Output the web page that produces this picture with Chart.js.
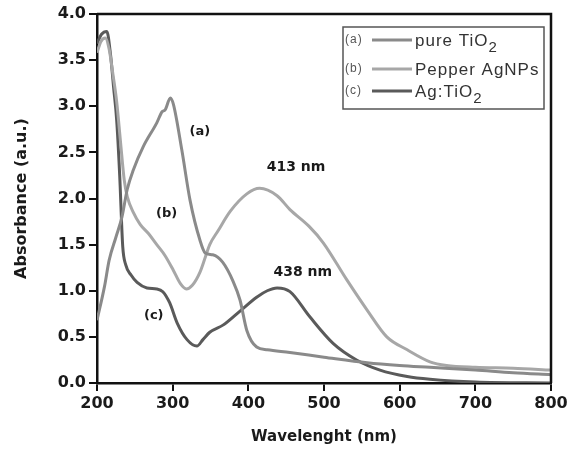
<!DOCTYPE html>
<html>
<head>
<meta charset="utf-8">
<script src="https://cdn.jsdelivr.net/npm/chart.js@4.4.0/dist/chart.umd.min.js"></script>
<style>
  body { margin: 0; background: #fff; }
</style>
</head>
<body>
<canvas id="chart" width="579" height="457"></canvas>
<script>
// (a) pure TiO2
const tio2Nm  = [200, 210, 216, 225, 233, 240, 248, 261, 279, 286, 290, 297, 301, 312, 323, 336, 343, 353, 366, 380, 389, 398, 411, 425, 455, 500, 557, 600, 640, 700, 750, 800]
const tio2Abs = [0.68, 1.05, 1.33, 1.58, 1.80, 2.10, 2.31, 2.56, 2.82, 2.94, 2.96, 3.09, 3.02, 2.53, 1.98, 1.55, 1.41, 1.39, 1.31, 1.10, 0.90, 0.57, 0.39, 0.36, 0.33, 0.28, 0.22, 0.19, 0.17, 0.14, 0.11, 0.09]

// (b) Pepper AgNPs
const pepperNm  = [200, 205, 211, 216, 221, 226, 231, 236, 240, 248, 257, 268, 279, 290, 301, 310, 318, 326, 336, 343, 349, 360, 376, 398, 415, 438, 455, 480, 499, 530, 557, 583, 610, 640, 662, 700, 750, 800]
const pepperAbs = [3.58, 3.70, 3.74, 3.62, 3.35, 3.05, 2.62, 2.20, 2.02, 1.85, 1.72, 1.62, 1.50, 1.38, 1.22, 1.08, 1.02, 1.06, 1.20, 1.36, 1.50, 1.65, 1.86, 2.05, 2.11, 2.03, 1.88, 1.70, 1.52, 1.12, 0.79, 0.50, 0.36, 0.23, 0.19, 0.17, 0.16, 0.14]

// (c) Ag:TiO2
const agTio2Nm  = [200, 206, 213, 218, 222, 226, 230, 234, 238, 245, 253, 266, 279, 287, 296, 306, 319, 332, 340, 349, 367, 389, 411, 425, 438, 455, 481, 512, 543, 574, 610, 640, 700, 800]
const agTio2Abs = [3.68, 3.78, 3.81, 3.55, 3.20, 2.85, 2.25, 1.48, 1.28, 1.17, 1.09, 1.03, 1.02, 0.99, 0.87, 0.65, 0.47, 0.40, 0.47, 0.55, 0.63, 0.78, 0.93, 1.00, 1.03, 0.99, 0.72, 0.43, 0.25, 0.14, 0.07, 0.04, 0.01, 0.00]

const xTicks = [200, 300, 400, 500, 600, 700, 800]
const yTicks = [0, 0.5, 1, 1.5, 2, 2.5, 3, 3.5, 4]

const colorA = '#8a8a8a'
const colorB = '#a7a7a7'
const colorC = '#5a5a5a'

// curve labels placed in data coordinates
const notes = [
    {text: '(a)', x: 336, y: 2.72, size: 13},
    {text: '(b)', x: 292, y: 1.84, size: 13},
    {text: '(c)', x: 275, y: 0.73, size: 13},
    {text: '413 nm', x: 463, y: 2.34, size: 14},
    {text: '438 nm', x: 472, y: 1.20, size: 14},
]

const legendItems = [
    {tag: '(a)', name: 'pure TiO', sub: '2', color: colorA},
    {tag: '(b)', name: 'Pepper AgNPs', sub: '', color: colorB},
    {tag: '(c)', name: 'Ag:TiO', sub: '2', color: colorC},
]

function toPoints(xs, ys) {
    return xs.map((x, i) => ({x: x, y: ys[i]}))
}

function makeSet(label, xs, ys, color) {
    return {
        label: label,
        data: toPoints(xs, ys),
        borderColor: color,
        backgroundColor: color,
        borderWidth: 3,
        pointRadius: 0,
        cubicInterpolationMode: 'monotone',
        fill: false,
    }
}

const frameAndNotes = {
    id: 'frameAndNotes',
    afterDraw(chart) {
        const ctx = chart.ctx
        const a = chart.chartArea
        const xs = chart.scales.x
        const ys = chart.scales.y

        ctx.save()
        // top + right frame
        ctx.strokeStyle = '#111'
        ctx.lineWidth = 2.5
        ctx.beginPath()
        ctx.moveTo(a.left, a.top)
        ctx.lineTo(a.right, a.top)
        ctx.lineTo(a.right, a.bottom)
        ctx.stroke()

        // curve notes
        ctx.fillStyle = '#1a1a1a'
        ctx.textAlign = 'center'
        ctx.textBaseline = 'middle'
        for (const n of notes) {
            ctx.font = 'bold ' + n.size + 'px "DejaVu Sans"'
            ctx.fillText(n.text, xs.getPixelForValue(n.x), ys.getPixelForValue(n.y))
        }

        // legend box
        const bx = 343, by = 27, bw = 201, bh = 82
        ctx.strokeStyle = '#555'
        ctx.lineWidth = 1.5
        ctx.strokeRect(bx, by, bw, bh)

        const rowY = [40, 69, 91]
        ctx.textAlign = 'left'
        legendItems.forEach((item, i) => {
            const y = rowY[i]
            ctx.fillStyle = '#555'
            ctx.font = '12px "Liberation Sans"'
            ctx.letterSpacing = '1px'
            ctx.fillText(item.tag, bx + 2, y)

            ctx.strokeStyle = item.color
            ctx.lineWidth = 3
            ctx.beginPath()
            ctx.moveTo(bx + 29, y)
            ctx.lineTo(bx + 69, y)
            ctx.stroke()

            ctx.fillStyle = '#333'
            ctx.font = '17px "Liberation Sans"'
            ctx.letterSpacing = '1px'
            ctx.fillText(item.name, bx + 72, y + 1)
            if (item.sub) {
                const w = ctx.measureText(item.name).width
                ctx.font = '15px "Liberation Sans"'
                ctx.fillText(item.sub, bx + 72 + w, y + 8)
            }
        })
        ctx.restore()
    }
}

const tickFont = {family: 'DejaVu Sans', size: 16, weight: 'bold'}

new Chart(document.getElementById('chart'), {
    type: 'line',
    data: {
        datasets: [
            makeSet('pure TiO2', tio2Nm, tio2Abs, colorA),
            makeSet('Pepper AgNPs', pepperNm, pepperAbs, colorB),
            makeSet('Ag:TiO2', agTio2Nm, agTio2Abs, colorC),
        ]
    },
    options: {
        responsive: false,
        animation: false,
        devicePixelRatio: 1,
        layout: {padding: {left: 0, right: 28, top: 14, bottom: 0}},
        plugins: {
            legend: {display: false},
            tooltip: {enabled: false},
        },
        scales: {
            x: {
                type: 'linear',
                min: 200,
                max: 800,
                afterFit: (s) => { s.height = 74 },
                afterBuildTicks: (s) => { s.ticks = xTicks.map(v => ({value: v})) },
                ticks: {font: tickFont, color: '#1a1a1a', padding: 3, maxRotation: 0},
                grid: {display: true, drawOnChartArea: false, drawTicks: true, tickLength: 8, color: '#111', lineWidth: 2},
                border: {display: true, color: '#111', width: 2.5},
                title: {
                    display: true,
                    text: 'Wavelenght (nm)',
                    color: '#1a1a1a',
                    font: {family: 'DejaVu Sans', size: 15, weight: 'bold'},
                    padding: {top: 0, bottom: 11},
                }
            },
            y: {
                min: 0,
                max: 4,
                afterFit: (s) => { s.width = 97 },
                afterBuildTicks: (s) => { s.ticks = yTicks.map(v => ({value: v})) },
                ticks: {font: tickFont, color: '#1a1a1a', padding: 3, callback: (v) => v.toFixed(1)},
                grid: {display: true, drawOnChartArea: false, drawTicks: true, tickLength: 8, color: '#111', lineWidth: 2},
                border: {display: true, color: '#111', width: 2.5},
                title: {
                    display: true,
                    text: 'Absorbance (a.u.)',
                    color: '#1a1a1a',
                    font: {family: 'DejaVu Sans', size: 16, weight: 'bold'},
                    padding: {top: 12, bottom: 0},
                }
            }
        }
    },
    plugins: [frameAndNotes]
})
</script>
</body>
</html>
